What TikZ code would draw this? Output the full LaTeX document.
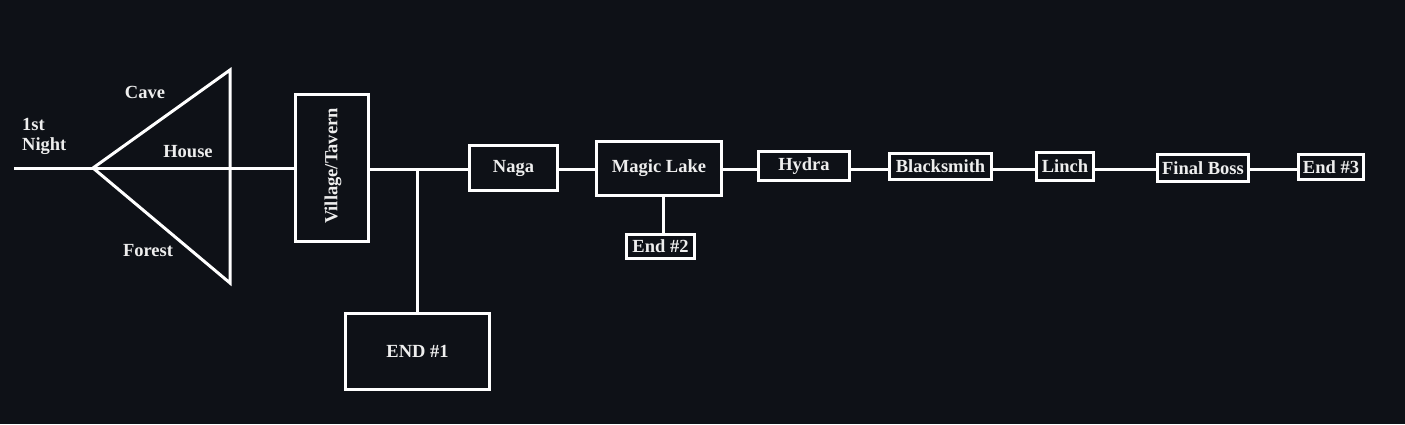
\documentclass[tikz,border=0pt]{standalone}
\usepackage{fontspec}
\setmainfont{Liberation Serif}
\definecolor{bgc}{RGB}{14,17,23}
\definecolor{txt}{RGB}{238,238,238}
\begin{document}
\begin{tikzpicture}[x=1pt,y=-1pt,
  wire/.style={draw=white,line width=3pt},
  boxnode/.style={draw=white,line width=3pt,inner sep=0pt,text=txt,
     font=\fontsize{18.5}{20}\selectfont\bfseries},
  lbl/.style={text=txt,inner sep=0pt,font=\fontsize{18.5}{20}\selectfont\bfseries}]
\fill[bgc] (0,0) rectangle (1405,424);
\useasboundingbox (0,0) rectangle (1405,424);
% coordinates
\coordinate (start) at (14,168);
\coordinate (apex) at (93,168);
\coordinate (ttop) at (230,70);
\coordinate (tbot) at (230,283);
\coordinate (m) at (0,169);
\coordinate (e2x) at (663,0);
% boxes
\node[boxnode,minimum width=73pt,minimum height=147pt] (village) at (332,168) {};
\node[lbl,rotate=90] (villagetxt) at (333,166) {Village/Tavern};
\node[boxnode,minimum width=144pt,minimum height=76pt] (end1) at (417.5,351.5) {END \#1};
\node[boxnode,minimum width=88pt,minimum height=45pt] (naga) at (513.5,168) {Naga};
\node[boxnode,minimum width=125pt,minimum height=54pt] (lake) at (659,168.5) {Magic Lake};
\node[boxnode,minimum width=68pt,minimum height=24pt] (end2) at (660.5,246.5) {End \#2};
\node[boxnode,minimum width=91pt,minimum height=29pt] (hydra) at (804,166) {Hydra};
\node[boxnode,minimum width=102pt,minimum height=26pt] (black) at (940.5,166.5) {Blacksmith};
\node[boxnode,minimum width=57pt,minimum height=28pt] (linch) at (1065,166.5) {Linch};
\node[boxnode,minimum width=91pt,minimum height=27pt] (boss) at (1203,168) {Final Boss};
\node[boxnode,minimum width=65pt,minimum height=25pt] (end3) at (1331,167) {End \#3};
% labels
\node[lbl,align=left,anchor=north west] (night) at (22,118) {1st\\Night};
\node[lbl] (cave) at (145,92) {Cave};
\node[lbl] (house) at (188,152) {House};
\node[lbl] (forest) at (148,251) {Forest};
% triangle and lines
\draw[wire] (start) -- (village.west |- start);
\draw[wire,line join=miter] (apex) -- (ttop) -- (tbot) -- cycle;
\draw[wire] (village.east |- m) -- (naga.west |- m);
\draw[wire] (end1.north) -- (end1.north |- m);
\draw[wire] (naga.east |- m) -- (lake.west |- m);
\draw[wire] (lake.south -| e2x) -- (end2.north -| e2x);
\draw[wire] (lake.east |- m) -- (hydra.west |- m);
\draw[wire] (hydra.east |- m) -- (black.west |- m);
\draw[wire] (black.east |- m) -- (linch.west |- m);
\draw[wire] (linch.east |- m) -- (boss.west |- m);
\draw[wire] (boss.east |- m) -- (end3.west |- m);
\end{tikzpicture}
\end{document}
